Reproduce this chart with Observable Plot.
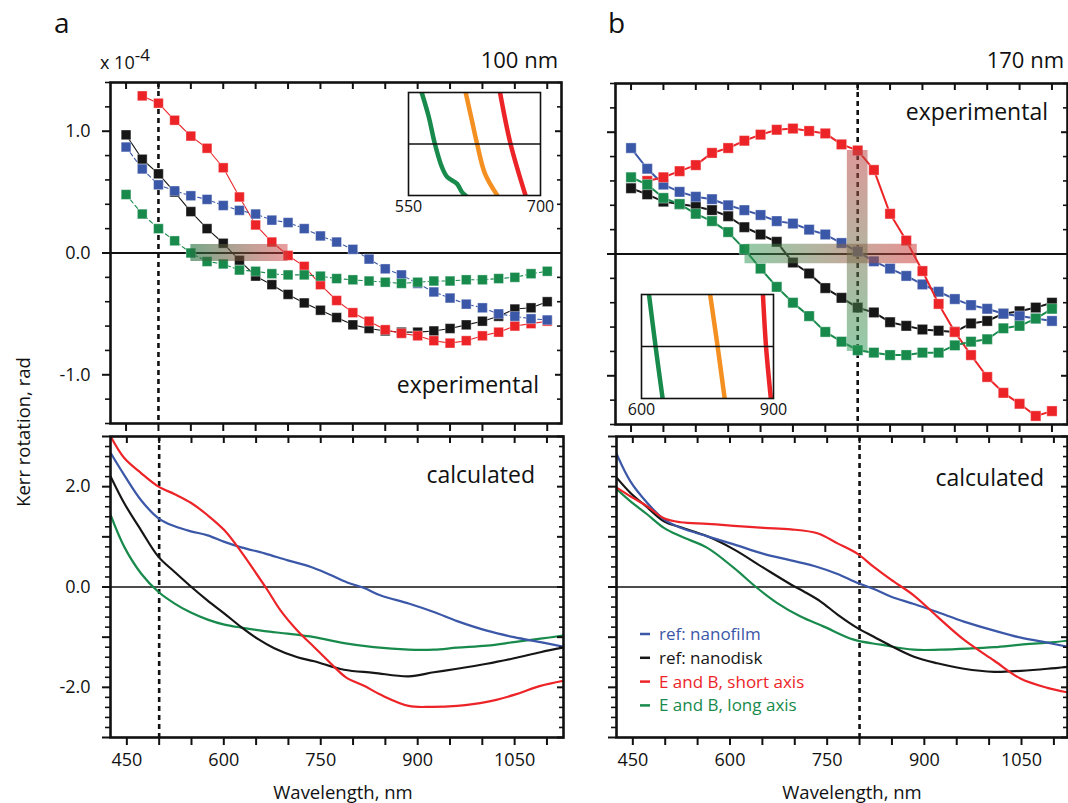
<!DOCTYPE html>
<html><head><meta charset="utf-8">
<script src="https://cdn.jsdelivr.net/npm/d3@7"></script>
<script src="https://cdn.jsdelivr.net/npm/@observablehq/plot@0.6"></script>
<style>
html,body{margin:0;padding:0;background:#fff;}
#root{position:relative;width:1068px;height:803px;overflow:hidden;background:#fff;}
#root > svg{position:absolute;left:0;top:0;}
</style></head><body><div id="root"></div>
<script>
const W = 1068, H = 803;
const COL = {blue:"#3b57a7", black:"#161616", red:"#ec2428", green:"#178a4c", orange:"#f39021"};

// ---------- experimental data (x 10^-4 rad) ----------
const expWl = [450,475,500,525,550,575,600,625,650,675,700,725,750,775,800,825,850,875,900,925,950,975,1000,1025,1050,1075,1100];
const aExpBlue  = [0.87,0.69,0.56,0.51,0.47,0.44,0.39,0.35,0.32,0.27,0.25,0.20,0.14,0.09,0.03,-0.05,-0.13,-0.18,-0.25,-0.32,-0.37,-0.42,-0.45,-0.50,-0.52,-0.54,-0.55];
const aExpBlack = [0.97,0.77,0.65,0.50,0.34,0.20,0.08,-0.06,-0.19,-0.26,-0.34,-0.41,-0.47,-0.53,-0.59,-0.62,-0.64,-0.65,-0.65,-0.64,-0.62,-0.59,-0.56,-0.52,-0.46,-0.45,-0.40];
const aExpRed   = [null,1.29,1.23,1.09,0.96,0.86,0.70,0.46,0.23,0.09,-0.02,-0.11,-0.26,-0.39,-0.49,-0.56,-0.63,-0.66,-0.68,-0.72,-0.74,-0.72,-0.68,-0.65,-0.60,-0.58,-0.56];
const aExpGreen = [0.48,0.32,0.20,0.10,0.00,-0.07,-0.09,-0.14,-0.15,-0.17,-0.18,-0.18,-0.19,-0.21,-0.22,-0.23,-0.24,-0.25,-0.24,-0.23,-0.23,-0.22,-0.22,-0.21,-0.20,-0.17,-0.15];

const bExpBlue  = [0.87,0.70,0.57,0.51,0.47,0.45,0.40,0.36,0.32,0.27,0.25,0.20,0.16,0.09,0.02,-0.06,-0.12,-0.18,-0.25,-0.31,-0.37,-0.42,-0.45,-0.49,-0.51,-0.53,-0.55];
const bExpBlack = [0.54,0.49,0.43,0.41,0.39,0.36,0.31,0.22,0.16,0.10,-0.07,-0.16,-0.28,-0.36,-0.44,-0.48,-0.56,-0.59,-0.62,-0.63,-0.64,-0.57,-0.55,-0.49,-0.47,-0.44,-0.40];
const bExpRed   = [null,0.60,0.63,0.68,0.73,0.83,0.87,0.93,0.98,1.02,1.03,1.01,0.99,0.90,0.85,0.69,0.33,0.11,-0.14,-0.41,-0.64,-0.83,-1.01,-1.14,-1.23,-1.33,-1.29];
const bExpGreen = [0.63,0.57,0.46,0.41,0.33,0.27,0.18,0.04,-0.12,-0.27,-0.40,-0.51,-0.64,-0.72,-0.79,-0.81,-0.83,-0.83,-0.81,-0.81,-0.75,-0.72,-0.70,-0.61,-0.59,-0.53,-0.45];

// ---------- calculated data ----------
const aCalcRedWl   = [425,446,472,499,524,549,575,601,627,647,668,688,714,740,766,789,817,843,886,920,961,1007,1049,1090,1125];
const aCalcRed     = [3.0,2.57,2.27,2.0,1.85,1.68,1.43,1.13,0.7,0.33,-0.07,-0.47,-0.87,-1.2,-1.53,-1.8,-1.97,-2.15,-2.37,-2.39,-2.37,-2.29,-2.15,-1.97,-1.87];
const aCalcBlueWl  = [425,446,472,499,524,549,575,601,627,663,699,735,760,791,817,843,886,925,961,1007,1049,1090,1125];
const aCalcBlue    = [2.67,2.23,1.73,1.37,1.21,1.11,1.03,0.9,0.79,0.67,0.53,0.4,0.27,0.09,-0.02,-0.17,-0.33,-0.5,-0.68,-0.87,-1.0,-1.1,-1.19];
const aCalcBlackWl = [425,446,472,499,524,549,575,601,627,652,678,714,740,786,832,886,925,961,1007,1049,1090,1125];
const aCalcBlack   = [2.2,1.67,1.13,0.6,0.3,0.01,-0.27,-0.53,-0.8,-1.03,-1.22,-1.4,-1.48,-1.65,-1.71,-1.78,-1.7,-1.63,-1.53,-1.42,-1.3,-1.21];
const aCalcGreenWl = [425,446,472,499,524,549,575,601,627,663,699,740,786,832,886,925,961,1007,1049,1090,1125];
const aCalcGreen   = [1.43,0.8,0.27,-0.1,-0.33,-0.51,-0.65,-0.75,-0.81,-0.88,-0.93,-1.0,-1.12,-1.2,-1.25,-1.25,-1.21,-1.17,-1.1,-1.03,-0.97];

const bCalcBlueWl  = [425,446,472,498,524,565,606,652,694,735,766,797,822,848,884,920,961,1008,1049,1090,1121];
const bCalcBlue    = [2.65,2.11,1.68,1.35,1.18,1.01,0.85,0.66,0.53,0.4,0.26,0.08,-0.04,-0.19,-0.34,-0.5,-0.69,-0.87,-1.01,-1.11,-1.19];
const bCalcBlackWl = [425,446,472,498,524,565,606,652,694,714,740,766,797,822,848,884,920,961,1008,1049,1090,1121];
const bCalcBlack   = [2.18,1.88,1.59,1.31,1.19,1.01,0.75,0.38,0.05,-0.09,-0.29,-0.55,-0.82,-0.99,-1.17,-1.39,-1.52,-1.63,-1.69,-1.67,-1.63,-1.59];
const bCalcRedWl   = [425,446,472,498,524,565,606,652,694,735,766,797,822,848,884,920,961,1008,1049,1090,1121];
const bCalcRed     = [1.98,1.81,1.61,1.37,1.29,1.26,1.22,1.18,1.15,1.07,0.87,0.66,0.4,0.15,-0.17,-0.59,-1.05,-1.47,-1.83,-2.01,-2.1];
const bCalcGreenWl = [425,446,472,498,524,565,606,642,673,709,745,791,833,884,925,967,1008,1049,1090,1121];
const bCalcGreen   = [1.95,1.71,1.45,1.18,1.01,0.78,0.38,-0.02,-0.32,-0.59,-0.79,-1.05,-1.15,-1.25,-1.25,-1.23,-1.2,-1.15,-1.11,-1.07];

// ---------- insets (schematic zoom, relative units) ----------
const insAGreenWl  = [565,573,580,588,594,605,611,615];
const insAGreen    = [1,0.53,0,-0.45,-0.64,-0.77,-0.94,-1];
const insAOrangeWl = [615,622,628,637,651];
const insAOrange   = [1,0.46,0,-0.58,-1];
const insARedWl    = [654,666,683];
const insARed      = [1,0,-1];
const insBGreenWl  = [617,632,648];
const insBOrangeWl = [756,773,789];
const insBRedWl    = [876,883,894];
const insBLin      = [1,0,-1];

// ---------- bands ----------
const bandA  = [{x1:550, x2:700, y1:-0.07, y2:0.07}];
const bandBH = [{x1:626, x2:892, y1:-0.08, y2:0.08}];
const bandBV = [{x1:784, x2:816, y1:-0.80, y2:0.85}];

// ---------- ticks ----------
const xTicksAll = [450,500,550,600,650,700,750,800,850,900,950,1000,1050,1100];
const xTickLabels = [450,600,750,900,1050];
const yTopMajor = [-1,0,1];
const yTopMinor = [-1.4,-1.2,-0.8,-0.6,-0.4,-0.2,0.2,0.4,0.6,0.8,1.2,1.4];
const yBotMajor = [-3,-2,-1,0,1,2,3];
const yBotMinor = [-2.8,-2.6,-2.4,-2.2,-1.8,-1.6,-1.4,-1.2,-0.8,-0.6,-0.4,-0.2,0.2,0.4,0.6,0.8,1.2,1.4,1.6,1.8,2.2,2.4,2.6,2.8];
const yBotLabels = [-2,0,2];

const legendItems = [
  {label:"ref: nanofilm", color:COL.blue},
  {label:"ref: nanodisk", color:COL.black},
  {label:"E and B, short axis", color:COL.red},
  {label:"E and B, long axis", color:COL.green}
];

const zip = (xs, ys) => xs.map((x,i)=>({x, y: ys[i]})).filter(d => d.y != null);
const blank = () => "";
const fmt1 = d => d.toFixed(1);
const fmtInt = d => String(d);
const baseStyle = {background:"none", overflow:"visible", fontFamily:"'Open Sans', sans-serif", fontSize:"18px", color:"#111"};

function gradDefs(list) {
  return () => {
    const g = d3.create("svg:defs");
    for (const d of list) {
      const lg = g.append("linearGradient").attr("id", d.id)
        .attr("x1",0).attr("y1",0).attr("x2", d.vertical?0:1).attr("y2", d.vertical?1:0);
      lg.append("stop").attr("offset",0).attr("stop-color", d.from).attr("stop-opacity", d.fromOp);
      lg.append("stop").attr("offset",1).attr("stop-color", d.to).attr("stop-opacity", d.toOp);
    }
    return g.node();
  };
}

function panel({box, xDomain, yDomain, yMajor, yMinor, yLabels, xLabels, zeroW, marks}) {
  const [x0, y0, x1, y1] = box;
  const axes = [
    Plot.axisX({anchor:"bottom", ticks:xTicksAll, tickSize:8, tickFormat:blank, label:null, strokeWidth:2}),
    Plot.axisX({anchor:"top", ticks:xTicksAll, tickSize:-6, tickFormat:blank, label:null, strokeWidth:2}),
    Plot.axisY({anchor:"left", ticks:yMinor, tickSize:5, tickFormat:blank, label:null, strokeWidth:1.6}),
    Plot.axisY({anchor:"left", ticks:yMajor, tickSize:8, tickFormat:blank, label:null, strokeWidth:2}),
    Plot.axisY({anchor:"right", ticks:yMinor, tickSize:-5, tickFormat:blank, label:null, strokeWidth:1.6}),
    Plot.axisY({anchor:"right", ticks:yMajor, tickSize:-7, tickFormat:blank, label:null, strokeWidth:2})
  ];
  if (yLabels) axes.push(Plot.axisY({anchor:"left", ticks:yLabels, tickSize:0, tickPadding:20, tickFormat:fmt1, label:null, fontSize:18}));
  if (xLabels) axes.push(Plot.axisX({anchor:"bottom", ticks:xLabels, tickSize:0, tickPadding:16, tickFormat:fmtInt, label:null, fontSize:18}));
  return Plot.plot({
    width:W, height:H,
    marginLeft:x0, marginRight:W-x1, marginTop:y0, marginBottom:H-y1,
    x:{domain:xDomain}, y:{domain:yDomain},
    style: baseStyle,
    marks:[
      Plot.ruleY([0], {strokeWidth:zeroW, stroke:"#111"}),
      ...marks,
      Plot.frame({strokeWidth:2.6, stroke:"#111"}),
      ...axes
    ]
  });
}

function expMarks(series, lw, r) {
  const out = [];
  for (const s of series) {
    const data = zip(expWl, s.values);
    out.push(Plot.line(data, {x:"x", y:"y", stroke:s.color, strokeWidth:lw, strokeDasharray:s.dash}));
    out.push(Plot.dot(data, {x:"x", y:"y", symbol:"square", r, fill:s.color, stroke:"#fff", strokeWidth:0.6, strokeOpacity:0.6}));
  }
  return out;
}
function calcMarks(series) {
  return series.map(s => Plot.line(zip(s.wl, s.values), {x:"x", y:"y", stroke:s.color, strokeWidth:2.2, curve:"catmull-rom", clip:true}));
}
const dotted = wl => Plot.ruleX([wl], {stroke:"#111", strokeWidth:2.6, strokeDasharray:"5,4"});

function inset({box, domain, series}) {
  const [x0, y0, x1, y1] = box;
  return Plot.plot({
    width:W, height:H,
    marginLeft:x0, marginRight:W-x1, marginTop:y0, marginBottom:H-y1,
    x:{domain}, y:{domain:[-1,1], axis:null},
    style: baseStyle,
    marks:[
      Plot.frame({fill:"white", stroke:"none"}),
      ...series.map(s => Plot.line(zip(s.wl, s.values), {x:"x", y:"y", stroke:s.color, strokeWidth:4.5, curve:"catmull-rom", clip:true})),
      Plot.ruleY([0], {stroke:"#111", strokeWidth:1.5}),
      Plot.frame({stroke:"#111", strokeWidth:1.6}),
      Plot.axisX({anchor:"bottom", ticks:domain, tickSize:0, tickPadding:5, tickFormat:fmtInt, label:null, fontSize:16})
    ]
  });
}

const root = document.getElementById("root");

// Panel a, experimental
root.appendChild(panel({
  box:[110, 82, 561, 423], xDomain:[426,1122], yDomain:[-1.4,1.4],
  yMajor:yTopMajor, yMinor:yTopMinor, yLabels:yTopMajor, xLabels:null, zeroW:2.2,
  marks:[
    gradDefs([{id:"gA", from:"rgb(30,110,60)", fromOp:0.6, to:"rgb(210,60,60)", toOp:0.5}]),
    dotted(500),
    ...expMarks([
      {values:aExpBlack, color:COL.black},
      {values:aExpRed, color:COL.red},
      {values:aExpBlue, color:COL.blue, dash:"4,3"},
      {values:aExpGreen, color:COL.green, dash:"4,3"}
    ], 1.1, 5.5),
    Plot.rect(bandA, {x1:"x1", x2:"x2", y1:"y1", y2:"y2", fill:"url(#gA)"})
  ]
}));

// Panel b, experimental
root.appendChild(panel({
  box:[615, 83, 1067, 424], xDomain:[426,1124], yDomain:[-1.4,1.4],
  yMajor:yTopMajor, yMinor:yTopMinor, yLabels:null, xLabels:null, zeroW:2.2,
  marks:[
    gradDefs([
      {id:"gBH", from:"rgb(40,150,80)", fromOp:0.5, to:"rgb(210,60,60)", toOp:0.55},
      {id:"gBV", from:"rgb(190,70,70)", fromOp:0.55, to:"rgb(40,150,80)", toOp:0.5, vertical:true}
    ]),
    dotted(800),
    ...expMarks([
      {values:bExpBlack, color:COL.black},
      {values:bExpBlue, color:COL.blue},
      {values:bExpRed, color:COL.red},
      {values:bExpGreen, color:COL.green}
    ], 2, 5.8),
    Plot.rect(bandBH, {x1:"x1", x2:"x2", y1:"y1", y2:"y2", fill:"url(#gBH)"}),
    Plot.rect(bandBV, {x1:"x1", x2:"x2", y1:"y1", y2:"y2", fill:"url(#gBV)"})
  ]
}));

// Panel a, calculated
root.appendChild(panel({
  box:[110, 436, 563, 737], xDomain:[424.7,1125.6], yDomain:[-3,3],
  yMajor:yBotMajor, yMinor:yBotMinor, yLabels:yBotLabels, xLabels:xTickLabels, zeroW:1.6,
  marks:[
    dotted(500),
    ...calcMarks([
      {wl:aCalcGreenWl, values:aCalcGreen, color:COL.green},
      {wl:aCalcBlackWl, values:aCalcBlack, color:COL.black},
      {wl:aCalcBlueWl, values:aCalcBlue, color:COL.blue},
      {wl:aCalcRedWl, values:aCalcRed, color:COL.red}
    ])
  ]
}));

// Panel b, calculated
root.appendChild(panel({
  box:[616, 436, 1067, 737], xDomain:[424.8,1121], yDomain:[-3,3],
  yMajor:yBotMajor, yMinor:yBotMinor, yLabels:null, xLabels:xTickLabels, zeroW:1.6,
  marks:[
    dotted(800),
    ...calcMarks([
      {wl:bCalcGreenWl, values:bCalcGreen, color:COL.green},
      {wl:bCalcBlackWl, values:bCalcBlack, color:COL.black},
      {wl:bCalcBlueWl, values:bCalcBlue, color:COL.blue},
      {wl:bCalcRedWl, values:bCalcRed, color:COL.red}
    ])
  ]
}));

// Insets
root.appendChild(inset({
  box:[408, 92, 540, 195], domain:[550,700],
  series:[
    {wl:insAGreenWl, values:insAGreen, color:COL.green},
    {wl:insAOrangeWl, values:insAOrange, color:COL.orange},
    {wl:insARedWl, values:insARed, color:COL.red}
  ]
}));
root.appendChild(inset({
  box:[641, 294, 773, 398], domain:[600,900],
  series:[
    {wl:insBGreenWl, values:insBLin, color:COL.green},
    {wl:insBOrangeWl, values:insBLin, color:COL.orange},
    {wl:insBRedWl, values:insBLin, color:COL.red}
  ]
}));

// ---------- text overlay ----------
const ov = d3.select(root).append("svg").attr("width", W).attr("height", H)
  .style("font-family", "'Open Sans', sans-serif").style("pointer-events","none");
function txt(s, x, y, size, anchor="start", fill="#111") {
  return ov.append("text").attr("x", x).attr("y", y).attr("font-size", size)
    .attr("text-anchor", anchor).attr("fill", fill).text(s);
}
txt("a", 54, 33, 28);
txt("b", 608, 33, 28);
const sci = ov.append("text").attr("x", 100).attr("y", 69).attr("font-size", 18).attr("fill", "#111");
sci.append("tspan").text("x 10");
sci.append("tspan").attr("dy", -8).attr("font-size", 17).text("-4");
txt("100 nm", 558, 68, 22, "end");
txt("170 nm", 1064, 68, 22, "end");
txt("experimental", 539, 393, 23, "end");
txt("experimental", 1048, 120, 23, "end");
txt("calculated", 535, 483, 23, "end");
txt("calculated", 1044, 486, 23, "end");
txt("Wavelength, nm", 343, 799, 18.5, "middle");
txt("Wavelength, nm", 852, 799, 18.5, "middle");
ov.append("text").attr("transform", "translate(30,432) rotate(-90)")
  .attr("font-size", 18.5).attr("text-anchor", "middle").attr("fill", "#111").text("Kerr rotation, rad");
legendItems.forEach((d, i) => {
  const by = 640 + i * 23.8;
  ov.append("line").attr("x1", 640).attr("x2", 650).attr("y1", by - 6).attr("y2", by - 6)
    .attr("stroke", d.color).attr("stroke-width", 2.5);
  txt(d.label, 659, by, 17, "start", d.color);
});
</script>
</body></html>
